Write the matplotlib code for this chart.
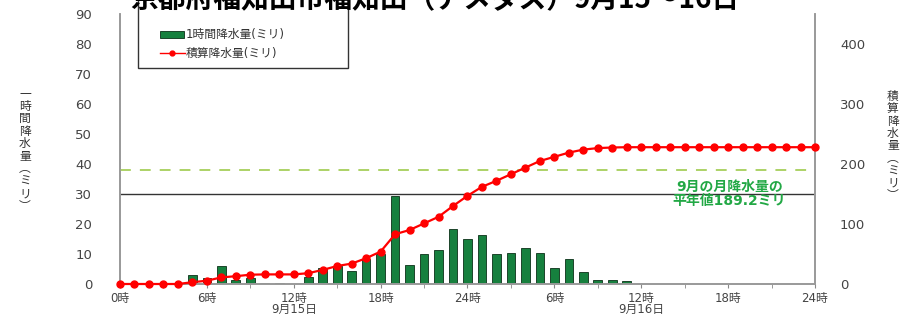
import matplotlib
matplotlib.use("Agg")
import matplotlib.pyplot as plt
from matplotlib.patches import Rectangle
from matplotlib.lines import Line2D

plt.rcParams['font.family'] = ['DejaVu Sans', 'Noto Sans CJK JP']

title = "京都府福知山市福知山（アメダス）9月15～16日"

# hourly rain (mm), value at end of each hour 1..48
hours = list(range(1, 49))
hourly = [0, 0, 0, 0, 3.0, 2.0, 6.0, 1.5, 2.0, 0.5, 0.5, 0,
          2.5, 5.5, 6.0, 4.5, 8.5, 10.0, 29.5, 6.5, 10.0, 11.5, 18.5, 15.0,
          16.5, 10.0, 10.5, 12.0, 10.5, 5.5, 8.5, 4.0, 1.5, 1.5, 1.0, 0,
          0, 0, 0, 0, 0, 0, 0, 0, 0, 0, 0, 0]

# accumulated rain (mm), hours 0..48
cum_hours = list(range(0, 49))
cumulative = [0, 0, 0, 0, 0, 3, 5.5, 11, 13, 15.5, 16, 16, 16,
              18, 23.5, 30, 34, 43, 54, 83, 90, 101, 112, 130, 147,
              162, 172, 183, 194, 205, 212, 219, 224, 226.5, 227.5, 228,
              228, 228, 228, 228, 228, 228, 228, 228, 228, 228, 228, 228, 228]

normal_sept = 189.2
tick_pos = [0, 6, 12, 18, 24, 30, 36, 42, 48]
tick_labels = ["0時", "6時", "12時\n9月15日", "18時", "24時", "6時", "12時\n9月16日", "18時", "24時"]

fig = plt.figure(figsize=(9.04, 3.14), dpi=100)
W, H = 904, 314
ax = fig.add_axes([120 / W, 1 - 284 / H, 695 / W, 270 / H])
ax2 = ax.twinx()

ax.bar(hours, hourly, width=0.6, color='#16803e', edgecolor='#0b3018', linewidth=0.6, zorder=2)
ax.axhline(30, color='#333333', lw=1, zorder=1)
ax.set_xlim(0, 48)
ax.set_ylim(0, 90)
ax.set_yticks(range(0, 91, 10))
ax.set_xticks(tick_pos)
ax.set_xticklabels(tick_labels, linespacing=0.82)
ax.set_xticks(range(0, 49, 3), minor=True)
ax.tick_params(axis='y', length=0, pad=20, labelsize=9.5, labelcolor='#444444')
ax.tick_params(axis='x', which='both', length=3, color='#888888', labelsize=8.5,
               labelcolor='#444444', pad=2.5)

ax2.plot(cum_hours, cumulative, color='#ff0000', lw=1.6, marker='o', ms=5, zorder=3, clip_on=False)
ax2.axhline(normal_sept, color='#a6cf5a', lw=1.3, ls=(0, (6, 5)))
ax2.set_ylim(0, 450)
ax2.set_yticks(range(0, 401, 100))
ax2.tick_params(axis='y', length=0, pad=18, labelsize=9.5, labelcolor='#444444')

for a in (ax, ax2):
    a.spines['top'].set_visible(False)
    for s in ('left', 'right', 'bottom'):
        a.spines[s].set_color('#999999')
        a.spines[s].set_linewidth(1.2)

ax2.text(42.1, 150, "9月の月降水量の\n平年値189.2ミリ", ha='center', va='center',
         fontsize=10, fontweight='bold', color='#22a845', linespacing=0.95,
         family=['DejaVu Sans', 'Noto Sans CJK JP'])

# vertical axis titles
fig.text(25 / W, 1 - 150 / H, "\n".join("一時間降水量") + "\n︵\nミ\nリ\n︶", ha='center', va='center',
         fontsize=8.5, color='#333333', linespacing=0.95, family=['Noto Sans CJK JP'])
fig.text(893 / W, 1 - 146 / H, "\n".join("積算降水量") + "\n︵\nミ\nリ\n︶", ha='center', va='center',
         fontsize=8.5, color='#333333', linespacing=0.95, family=['Noto Sans CJK JP'])

# legend box
fig.patches.append(Rectangle((138 / W, 1 - 68 / H), 210 / W, 80 / H, transform=fig.transFigure,
                             facecolor='white', edgecolor='#333333', lw=1))
fig.patches.append(Rectangle((160 / W, 1 - 38 / H), 24 / W, 7 / H, transform=fig.transFigure,
                             facecolor='#16803e', edgecolor='#0b3018', lw=0.6))
fig.lines.append(Line2D([160 / W, 185 / W], [1 - 53 / H, 1 - 53 / H], transform=fig.transFigure,
                        color='#ff0000', lw=1))
fig.lines.append(Line2D([172.5 / W], [1 - 53 / H], transform=fig.transFigure,
                        color='#ff0000', marker='o', ms=3.5))
fig.text(186 / W, 1 - 34 / H, "1時間降水量(ミリ)", va='center', fontsize=8.5, color='#333333')
fig.text(186 / W, 1 - 53 / H, "積算降水量(ミリ)", va='center', fontsize=8.5, color='#333333')

fig.text(435 / W, 1 - 8 / H, title, ha='center', va='baseline', fontsize=20, fontweight='bold',
         color='black', family=['Noto Sans CJK JP'])

fig.savefig("out.png", dpi=100)
